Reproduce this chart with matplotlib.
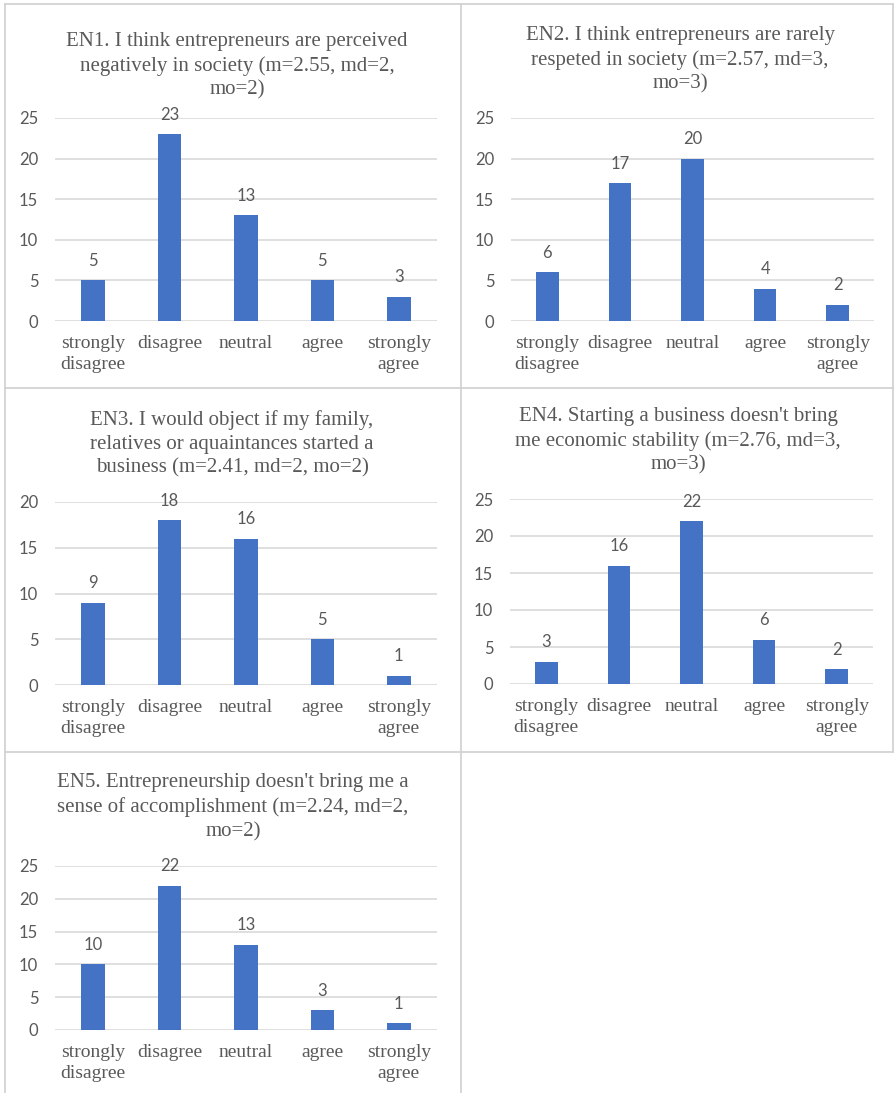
import matplotlib
matplotlib.use("Agg")
import matplotlib.pyplot as plt
from matplotlib.lines import Line2D

# data
categories = ["strongly\ndisagree", "disagree", "neutral", "agree", "strongly\nagree"]

titles = [
    "EN1. I think entrepreneurs are perceived\nnegatively in society (m=2.55, md=2,\nmo=2)",
    "EN2. I think entrepreneurs are rarely\nrespeted in society (m=2.57, md=3,\nmo=3)",
    "EN3. I would object if my family,\nrelatives or aquaintances started a\nbusiness (m=2.41, md=2, mo=2)",
    "EN4. Starting a business doesn't bring\nme economic stability (m=2.76, md=3,\nmo=3)",
    "EN5. Entrepreneurship doesn't bring me a\nsense of accomplishment (m=2.24, md=2,\nmo=2)",
]

en1 = [5, 23, 13, 5, 3]
en2 = [6, 17, 20, 4, 2]
en3 = [9, 18, 16, 5, 1]
en4 = [3, 16, 22, 6, 2]
en5 = [10, 22, 13, 3, 1]
series = [en1, en2, en3, en4, en5]
ymax = [25, 25, 20, 25, 25]

W, H = 894, 1093
BAR = "#4472C4"
TXT = "#595959"
GRID = "#D9D9D9"
SERIF = "Liberation Serif"
SANS = "Lato"

fig = plt.figure(figsize=(W / 100, H / 100), dpi=100)

# axes boxes in pixels: left, top, right, bottom
boxes = [
    (55, 118, 437, 321),
    (511, 118, 874, 321),
    (55, 502, 437, 685),
    (510, 499, 873, 684),
    (55, 866, 437, 1030),
]
# title centre (x, middle line y)
title_pos = [(237, 66), (680, 60), (232, 444), (678, 441), (233, 807)]


def add_box(l, t, r, b):
    return fig.add_axes([l / W, 1 - b / H, (r - l) / W, (b - t) / H])


for i in range(5):
    ax = add_box(*boxes[i])
    vals = series[i]
    x = range(len(categories))
    ax.bar(x, vals, width=0.31, color=BAR, zorder=3)
    ax.set_xlim(-0.5, 4.5)
    ax.set_ylim(0, ymax[i])
    ax.set_yticks(range(0, ymax[i] + 1, 5))
    ax.yaxis.grid(True, color=GRID, linewidth=1.2, zorder=0)
    for s in ax.spines.values():
        s.set_visible(False)
    ax.tick_params(length=0)
    ax.tick_params(axis="y", pad=12, labelsize=12, labelcolor=TXT)
    ax.tick_params(axis="x", pad=10, labelsize=14, labelcolor=TXT)
    for lab in ax.get_yticklabels():
        lab.set_family(SANS)
    ax.set_xticks(list(x))
    ax.set_xticklabels(categories, family=SERIF, linespacing=1.3)
    for xi, v in zip(x, vals):
        ax.annotate(str(v), (xi, v), xytext=(0, 14), textcoords="offset points",
                    ha="center", va="center", fontsize=12, family=SANS, color=TXT)
    tx, ty = title_pos[i]
    fig.text(tx / W, 1 - ty / H, titles[i], ha="center", va="center",
             multialignment="center", fontsize=15, family=SERIF,
             color=TXT, linespacing=1.34)

# table cell borders
border = "#D0D0D0"
segs = [
    ((5, 893), (4, 4)),
    ((5, 5), (4, 1093)),
    ((893, 893), (4, 752)),
    ((461, 461), (4, 1093)),
    ((5, 893), (388, 388)),
    ((5, 893), (752, 752)),
]
for xs, ys in segs:
    fig.add_artist(Line2D([v / W for v in xs], [1 - v / H for v in ys],
                          transform=fig.transFigure, color=border, linewidth=1.2))

fig.savefig("out.png", dpi=100)
